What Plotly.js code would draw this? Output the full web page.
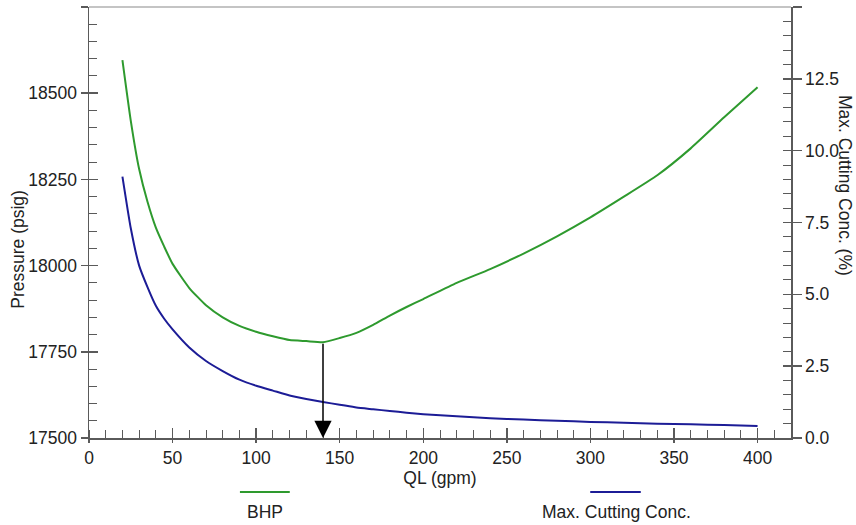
<!DOCTYPE html>
<html>
<head>
<meta charset="utf-8">
<script src="https://cdn.plot.ly/plotly-3.0.1.min.js"></script>
<style>html,body{margin:0;padding:0;background:#fff;}#chart{width:856px;height:525px;}</style>
</head>
<body>
<div id="chart"></div>
<script>
// Flow rate QL (gpm)
const ql = [20,25,30,35,40,45,50,60,70,80,90,100,110,120,130,140,150,160,170,180,190,200,220,240,260,280,300,320,340,360,380,400];
// Bottom hole pressure (psig)
const bhp = [18596,18420,18280,18185,18110,18055,18005,17935,17885,17850,17825,17808,17795,17784,17781,17778,17790,17805,17828,17855,17880,17903,17950,17990,18035,18085,18140,18200,18262,18340,18430,18517];
// Max. cutting concentration (%)
const maxConc = [9.1,7.3,6.0,5.25,4.6,4.15,3.78,3.15,2.68,2.33,2.03,1.82,1.65,1.48,1.36,1.25,1.16,1.06,1.0,0.94,0.88,0.83,0.76,0.69,0.64,0.60,0.56,0.53,0.50,0.48,0.45,0.42];

const names = ['BHP', 'Max. Cutting Conc.'];
const colors = ['#2e9a2e', '#1c1c96'];
const xTitle = 'QL (gpm)';
const yTitle = 'Pressure (psig)';
const y2Title = 'Max. Cutting Conc. (%)';
const xRange = [0, 420];
const yRange = [17500, 18750];
const y2Range = [0, 15];

// optimum (minimum BHP) point for the arrow
let iMin = 0;
for (let i = 1; i < bhp.length; i++) if (bhp[i] < bhp[iMin]) iMin = i;

const FONT = 'Liberation Sans, Arial, sans-serif';
const AX = '#5a5a5a';
const TXT = '#222';
const FS = 17.5;

const traces = [
  {x: ql, y: bhp, name: names[0], type: 'scatter', mode: 'lines', line: {color: colors[0], width: 2, shape: 'spline', smoothing: 0.5}, xaxis: 'x', yaxis: 'y', showlegend: false, hoverinfo: 'skip'},
  {x: ql, y: maxConc, name: names[1], type: 'scatter', mode: 'lines', line: {color: colors[1], width: 2, shape: 'spline', smoothing: 0.5}, xaxis: 'x', yaxis: 'y2', showlegend: false, hoverinfo: 'skip'},
  // invisible helper traces so the overlay tick axes are drawn
  {x: [null], y: [null], xaxis: 'x2', yaxis: 'y', type: 'scatter', mode: 'lines', showlegend: false, hoverinfo: 'skip'},
  {x: [null], y: [null], xaxis: 'x', yaxis: 'y3', type: 'scatter', mode: 'lines', showlegend: false, hoverinfo: 'skip'},
  {x: [null], y: [null], xaxis: 'x', yaxis: 'y4', type: 'scatter', mode: 'lines', showlegend: false, hoverinfo: 'skip'}
];

const tickFont = {family: FONT, size: FS, color: TXT};

const layout = {
  width: 856, height: 525,
  margin: {l: 89, r: 65, t: 7, b: 87},
  paper_bgcolor: '#fff', plot_bgcolor: '#fff',
  font: {family: FONT, size: FS, color: TXT},
  showlegend: false,
  xaxis: {
    range: xRange, dtick: 50, tick0: 0, showgrid: false, zeroline: false,
    showline: true, linecolor: AX, linewidth: 1.5,
    ticks: 'outside', ticklen: 3, tickcolor: AX, tickwidth: 1.5,
    minor: {dtick: 10, ticks: 'inside', ticklen: 8, tickcolor: AX, tickwidth: 1},
    tickfont: tickFont, anchor: 'y',
    title: {text: xTitle, font: {family: FONT, size: FS, color: TXT}, standoff: 0}
  },
  xaxis2: {
    range: xRange, dtick: 50, tick0: 0, overlaying: 'x', anchor: 'y', side: 'bottom',
    showgrid: false, zeroline: false, showline: false, showticklabels: false,
    ticks: 'inside', ticklen: 10, tickcolor: AX, tickwidth: 1.5
  },
  yaxis: {
    range: yRange, dtick: 250, tick0: 17500, showgrid: false, zeroline: false,
    showline: true, linecolor: AX, linewidth: 1.5,
    ticks: 'outside', ticklen: 7, tickcolor: AX, tickwidth: 1.5,
    minor: {dtick: 50, ticks: 'inside', ticklen: 8, tickcolor: AX, tickwidth: 1},
    tickfont: tickFont, anchor: 'x', tickformat: 'd'
  },
  yaxis3: {
    range: yRange, dtick: 250, tick0: 17500, overlaying: 'y', anchor: 'x', side: 'left',
    showgrid: false, zeroline: false, showline: false, showticklabels: false,
    ticks: 'inside', ticklen: 9, tickcolor: AX, tickwidth: 1.5
  },
  yaxis2: {
    range: y2Range, dtick: 2.5, tick0: 0, overlaying: 'y', side: 'right', anchor: 'x',
    showgrid: false, zeroline: false, showline: true, linecolor: AX, linewidth: 1.5,
    ticks: 'outside', ticklen: 9, tickcolor: AX, tickwidth: 1.5,
    minor: {dtick: 0.5, ticks: 'inside', ticklen: 8, tickcolor: AX, tickwidth: 1},
    tickfont: tickFont, tickformat: '.1f'
  },
  yaxis4: {
    range: y2Range, dtick: 2.5, tick0: 0, overlaying: 'y', side: 'right', anchor: 'x',
    showgrid: false, zeroline: false, showline: false, showticklabels: false,
    ticks: 'inside', ticklen: 8, tickcolor: AX, tickwidth: 1.5
  },
  shapes: [
    // top frame line
    {type: 'line', xref: 'paper', yref: 'paper', x0: 0, x1: 1, y0: 1, y1: 1, line: {color: '#c4c4c4', width: 2}},
    // legend samples
    {type: 'line', xref: 'paper', yref: 'paper', x0: 0.215, x1: 0.286, y0: -0.125, y1: -0.125, line: {color: colors[0], width: 2}},
    {type: 'line', xref: 'paper', yref: 'paper', x0: 0.714, x1: 0.786, y0: -0.125, y1: -0.125, line: {color: colors[1], width: 2}}
  ],
  annotations: [
    {x: ql[iMin], y: yRange[0], xref: 'x', yref: 'y', ax: ql[iMin], ay: bhp[iMin], axref: 'x', ayref: 'y',
     showarrow: true, arrowhead: 2, arrowsize: 2.3, arrowwidth: 1.5, arrowcolor: '#000', text: '', standoff: 0, startstandoff: 0},
    {text: names[0], xref: 'paper', yref: 'paper', x: 0.251, y: -0.172, xanchor: 'center', yanchor: 'middle', showarrow: false, font: {family: FONT, size: FS, color: TXT}},
    {text: names[1], xref: 'paper', yref: 'paper', x: 0.751, y: -0.172, xanchor: 'center', yanchor: 'middle', showarrow: false, font: {family: FONT, size: FS, color: TXT}},
    {text: yTitle, xref: 'paper', yref: 'paper', x: -0.101, y: 0.437, xanchor: 'center', yanchor: 'middle', showarrow: false, textangle: -90, font: {family: FONT, size: FS, color: TXT}},
    {text: y2Title, xref: 'paper', yref: 'paper', x: 1.077, y: 0.587, xanchor: 'center', yanchor: 'middle', showarrow: false, textangle: 90, font: {family: FONT, size: FS, color: TXT}}
  ]
};

Plotly.newPlot('chart', traces, layout, {staticPlot: true, displayModeBar: false});
</script>
</body>
</html>
